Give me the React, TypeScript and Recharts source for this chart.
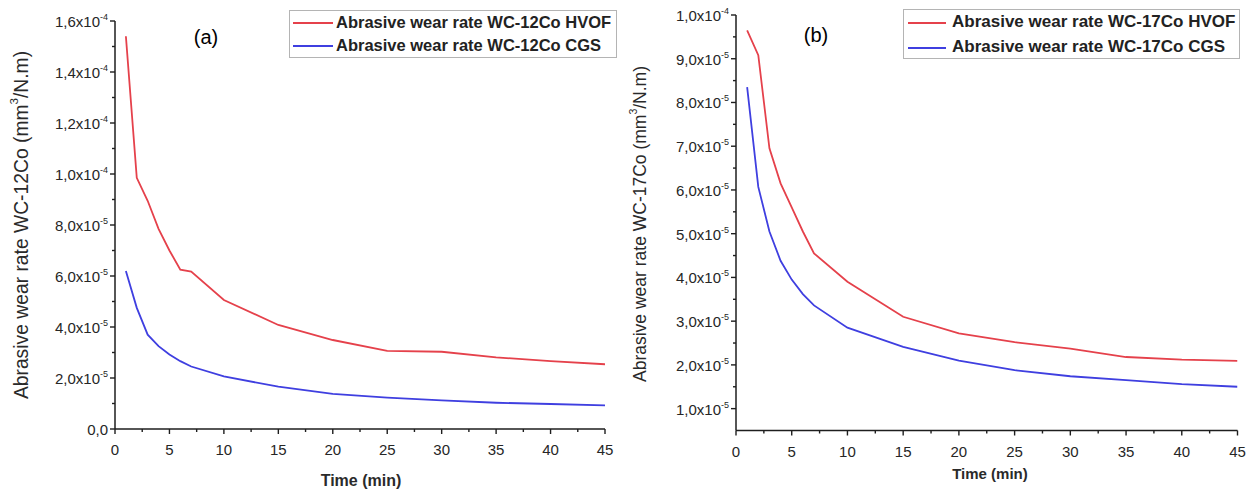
import React from "react";
import { LineChart, Line, XAxis, YAxis, Legend } from "recharts";

const timeMin = [1, 2, 3, 4, 5, 6, 7, 10, 15, 20, 25, 30, 35, 40, 45];
const hvof12 = [1.54e-4, 9.85e-5, 8.95e-5, 7.85e-5, 7.0e-5, 6.25e-5, 6.17e-5, 5.06e-5, 4.08e-5, 3.49e-5, 3.06e-5, 3.03e-5, 2.81e-5, 2.66e-5, 2.54e-5];
const cgs12 = [6.2e-5, 4.75e-5, 3.7e-5, 3.25e-5, 2.92e-5, 2.66e-5, 2.45e-5, 2.06e-5, 1.66e-5, 1.38e-5, 1.23e-5, 1.12e-5, 1.03e-5, 0.98e-5, 0.93e-5];
const hvof17 = [9.65e-5, 9.08e-5, 6.95e-5, 6.15e-5, 5.6e-5, 5.05e-5, 4.55e-5, 3.9e-5, 3.1e-5, 2.72e-5, 2.52e-5, 2.37e-5, 2.18e-5, 2.12e-5, 2.09e-5];
const cgs17 = [8.35e-5, 6.07e-5, 5.05e-5, 4.38e-5, 3.95e-5, 3.62e-5, 3.36e-5, 2.85e-5, 2.41e-5, 2.1e-5, 1.88e-5, 1.74e-5, 1.65e-5, 1.56e-5, 1.5e-5];

const xTicks = [0, 2.5, 5, 7.5, 10, 12.5, 15, 17.5, 20, 22.5, 25, 27.5, 30, 32.5, 35, 37.5, 40, 42.5, 45];
const xTickLabels = ["0", "", "5", "", "10", "", "15", "", "20", "", "25", "", "30", "", "35", "", "40", "", "45"];

const yTicksA = [0, 1e-5, 2e-5, 3e-5, 4e-5, 5e-5, 6e-5, 7e-5, 8e-5, 9e-5, 1e-4, 1.1e-4, 1.2e-4, 1.3e-4, 1.4e-4, 1.5e-4, 1.6e-4];
const yTickLabelsA = ["0,0", "", "2,0x10^-5", "", "4,0x10^-5", "", "6,0x10^-5", "", "8,0x10^-5", "", "1,0x10^-4", "", "1,2x10^-4", "", "1,4x10^-4", "", "1,6x10^-4"];

const yTicksB = [1e-5, 1.5e-5, 2e-5, 2.5e-5, 3e-5, 3.5e-5, 4e-5, 4.5e-5, 5e-5, 5.5e-5, 6e-5, 6.5e-5, 7e-5, 7.5e-5, 8e-5, 8.5e-5, 9e-5, 9.5e-5, 1e-4];
const yTickLabelsB = ["1,0x10^-5", "", "2,0x10^-5", "", "3,0x10^-5", "", "4,0x10^-5", "", "5,0x10^-5", "", "6,0x10^-5", "", "7,0x10^-5", "", "8,0x10^-5", "", "9,0x10^-5", "", "1,0x10^-4"];

const seriesNamesA = ["Abrasive wear rate WC-12Co HVOF", "Abrasive wear rate WC-12Co CGS"];
const seriesNamesB = ["Abrasive wear rate WC-17Co HVOF", "Abrasive wear rate WC-17Co CGS"];

const dataA = timeMin.map((t, i) => ({ t, hvof: hvof12[i], cgs: cgs12[i] }));
const dataB = timeMin.map((t, i) => ({ t, hvof: hvof17[i], cgs: cgs17[i] }));

const RED = "#e5414b";
const BLUE = "#3f3fe0";
const AXIS = "#1e1e1e";
const FONT = "'Liberation Sans', Arial, sans-serif";

const makeXTick = (ticks: number[], labels: string[]) => (props: any) => {
  const { x, y, payload } = props;
  const idx = ticks.indexOf(payload.value);
  const label = labels[idx] || "";
  const major = label !== "";
  return (
    <g>
      <line x1={x} y1={y} x2={x} y2={y + (major ? 5 : 3)} stroke={AXIS} strokeWidth={1.4} />
      {major && (
        <text x={x} y={y + 26} textAnchor="middle" fontSize={15} fill="#262626" fontFamily={FONT}>
          {label}
        </text>
      )}
    </g>
  );
};

const makeYTick = (ticks: number[], labels: string[]) => (props: any) => {
  const { x, y, payload } = props;
  let idx = -1;
  ticks.forEach((v, i) => {
    if (Math.abs(v - payload.value) < 1e-9) idx = i;
  });
  const label = labels[idx] || "";
  const major = label !== "";
  const parts = label.split("^");
  return (
    <g>
      <line x1={x} y1={y} x2={x - (major ? 5 : 3)} y2={y} stroke={AXIS} strokeWidth={1.4} />
      {major && (
        <text x={x - 7} y={y + 6} textAnchor="end" fontSize={15} fill="#262626" fontFamily={FONT}>
          <tspan>{parts[0]}</tspan>
          {parts[1] && (
            <tspan dy={-7} fontSize={9}>
              {parts[1]}
            </tspan>
          )}
        </text>
      )}
    </g>
  );
};

const makeLegend = (names: string[], w: number, h: number, fs: number, textX: number, rows: number[], lineX: number[]) => () => (
  <div
    style={{
      width: w,
      height: h,
      border: "1px solid #b4b4b4",
      boxSizing: "border-box",
      position: "relative",
      background: "#fff",
      fontFamily: FONT,
    }}
  >
    {names.map((n, i) => (
      <div key={n}>
        <div
          style={{
            position: "absolute",
            left: lineX[0],
            width: lineX[1],
            top: rows[i] - 1,
            height: 2,
            background: i === 0 ? RED : BLUE,
          }}
        />
        <div
          style={{
            position: "absolute",
            left: textX,
            top: rows[i] - fs * 0.62,
            fontSize: fs,
            fontWeight: "bold",
            color: "#222",
            whiteSpace: "nowrap",
            lineHeight: "1.2",
          }}
        >
          {n}
        </div>
      </div>
    ))}
  </div>
);

const Y_W = 80;
const X_H = 40;

const Panel = (p: {
  data: any[];
  width: number;
  margin: any;
  yDomain: number[];
  yTicks: number[];
  yLabels: string[];
  yTitle: string;
  yTitleX: number;
  yTitleY: number;
  yTitleSize: number;
  xTitleX: number;
  xTitleY: number;
  xTitleSize: number;
  letter: string;
  letterX: number;
  letterY: number;
  names: string[];
  legendPos: { left: number; top: number; w: number; h: number; fs: number; textX: number; rows: number[]; lineX: number[] };
}) => (
  <LineChart width={p.width} height={492} data={p.data} margin={p.margin}>
    <XAxis
      dataKey="t"
      type="number"
      domain={[0, 45]}
      ticks={xTicks}
      interval={0}
      height={X_H}
      tickSize={0}
      tickMargin={0}
      stroke={AXIS}
      strokeWidth={1.5}
      tick={makeXTick(xTicks, xTickLabels)}
      tickLine={false}
      allowDataOverflow
    />
    <YAxis
      type="number"
      domain={p.yDomain}
      ticks={p.yTicks}
      interval={0}
      width={Y_W}
      tickSize={0}
      tickMargin={0}
      stroke={AXIS}
      strokeWidth={1.5}
      tick={makeYTick(p.yTicks, p.yLabels)}
      tickLine={false}
      allowDataOverflow
    />
    <Legend
      layout="horizontal"
      verticalAlign="middle"
      align="center"
      content={makeLegend(p.names, p.legendPos.w, p.legendPos.h, p.legendPos.fs, p.legendPos.textX, p.legendPos.rows, p.legendPos.lineX)}
      wrapperStyle={{ left: p.legendPos.left, top: p.legendPos.top, width: p.legendPos.w, height: p.legendPos.h }}
    />
    <Line dataKey="hvof" stroke={RED} strokeWidth={1.8} dot={false} isAnimationActive={false} />
    <Line dataKey="cgs" stroke={BLUE} strokeWidth={1.8} dot={false} isAnimationActive={false} />
    <text
      x={p.yTitleX}
      y={p.yTitleY}
      transform={`rotate(-90 ${p.yTitleX} ${p.yTitleY})`}
      textAnchor="middle"
      dominantBaseline="central"
      fontSize={p.yTitleSize}
      fill="#2a2a2a"
      fontFamily={FONT}
    >
      {p.yTitle}
      <tspan dy={-7} fontSize={p.yTitleSize * 0.6}>3</tspan>
      <tspan dy={7}>/N.m)</tspan>
    </text>
    <text x={p.xTitleX} y={p.xTitleY} textAnchor="middle" dominantBaseline="central" fontSize={p.xTitleSize} fontWeight="bold" fill="#2a2a2a" fontFamily={FONT}>
      Time (min)
    </text>
    <text x={p.letterX} y={p.letterY} textAnchor="middle" dominantBaseline="central" fontSize={20} fill="#000" fontFamily={FONT}>
      {p.letter}
    </text>
  </LineChart>
);

export default function App() {
  return (
    <div style={{ position: "absolute", left: 0, top: 0, width: 1251, height: 492, background: "#fff", overflow: "hidden" }}>
      <div style={{ position: "absolute", left: 0, top: 0 }}>
        <Panel
          data={dataA}
          width={620}
          margin={{ top: 21, right: 15, bottom: 63 - X_H, left: 115 - Y_W }}
          yDomain={[0, 1.6e-4]}
          yTicks={yTicksA}
          yLabels={yTickLabelsA}
          yTitle="Abrasive wear rate WC-12Co (mm"
          yTitleX={21}
          yTitleY={225}
          yTitleSize={19.3}
          xTitleX={361}
          xTitleY={480}
          xTitleSize={16}
          letter="(a)"
          letterX={206}
          letterY={37}
          names={seriesNamesA}
          legendPos={{ left: 289, top: 10, w: 328, h: 48, fs: 16.5, textX: 46, rows: [12, 35], lineX: [3, 40] }}
        />
      </div>
      <div style={{ position: "absolute", left: 620, top: 0 }}>
        <Panel
          data={dataB}
          width={631}
          margin={{ top: 15, right: 13.5, bottom: 61.5 - X_H, left: 116 - Y_W }}
          yDomain={[0.5e-5, 1.0e-4]}
          yTicks={yTicksB}
          yLabels={yTickLabelsB}
          yTitle="Abrasive wear rate WC-17Co (mm"
          yTitleX={20}
          yTitleY={224}
          yTitleSize={17.5}
          xTitleX={370}
          xTitleY={473}
          xTitleSize={15}
          letter="(b)"
          letterX={196}
          letterY={35}
          names={seriesNamesB}
          legendPos={{ left: 283, top: 9, w: 337, h: 50, fs: 17, textX: 48, rows: [13, 38], lineX: [4, 38] }}
        />
      </div>
    </div>
  );
}
